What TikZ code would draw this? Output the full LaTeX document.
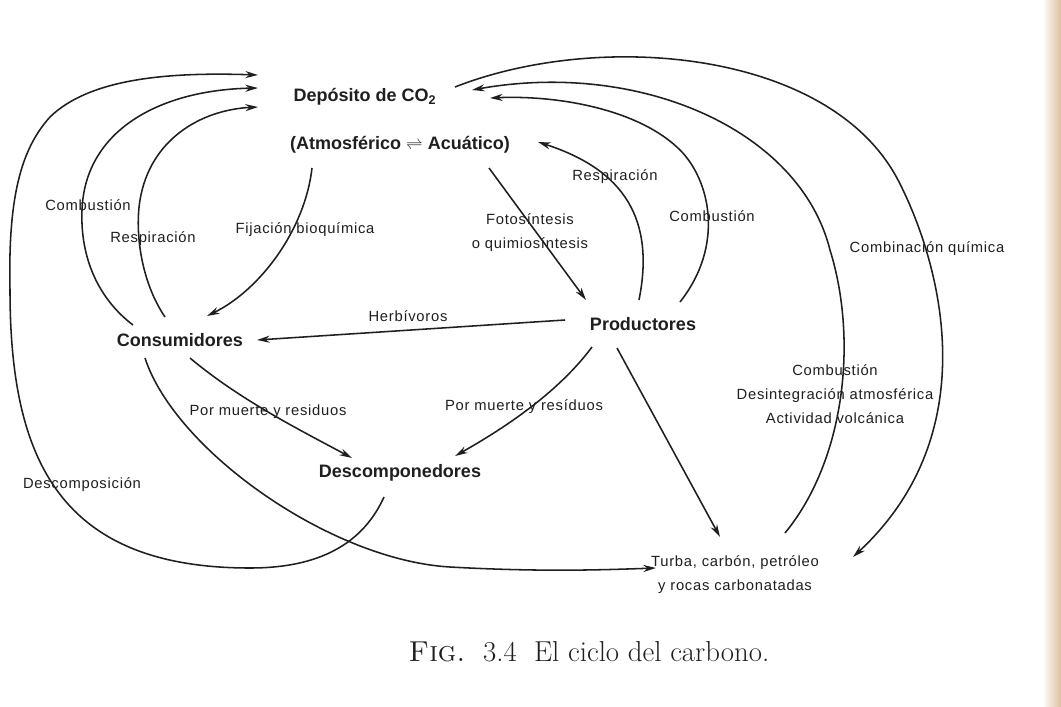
\documentclass[tikz,border=0pt]{standalone}
\usepackage{fontspec}
\setsansfont{Liberation Sans}
\newfontfamily\lblfont[LetterSpace=5]{Liberation Sans}
\usetikzlibrary{arrows.meta}

\begin{document}
\begin{tikzpicture}[x=0.025cm, y=-0.025cm, >={Stealth[length=9pt,width=5pt]},
                    color=black!88, line width=1.1pt]
\tikzset{box/.style={font=\sffamily\bfseries\fontsize{12.8}{15}\selectfont, inner sep=1pt},
         lbl/.style={font=\lblfont\fontsize{10.5}{17}\selectfont, inner sep=0pt},
         flow/.style={->, line width=1.1pt}}
  \useasboundingbox[fill=white] (0,0) rectangle (1061,706);
  \shade[left color=white, right color=brown!50!white] (1042,0) rectangle (1061,706);
  % compartimentos
  \node[box] (dep) at (365,97) {Depósito de CO\textsubscript{2}};
  \node[box] (atm) at (400,145) {(Atmosférico $\rightleftharpoons$ Acuático)};
  \node[box] (cons) at (180,340) {Consumidores};
  \node[box] (prod) at (643,324) {Productores};
  \node[box] (desc) at (400,473) {Descomponedores};
  \node[lbl, align=center] (turba) at (735,575) {Turba, carbón, petróleo\\y rocas carbonatadas};
  %
  \node[lbl] (lcomb1) at (88,205) {Combustión};
  \node[lbl] (lresp1) at (153,239) {Respiración};
  \node[lbl] (lfij) at (305,230) {Fijación bioquímica};
  \node[lbl, align=center] (lfoto) at (530,233) {Fotosíntesis\\o quimiosíntesis};
  \node[lbl] (lresp2) at (615,177) {Respiración};
  \node[lbl] (lcomb2) at (712,216) {Combustión};
  \node[lbl] (lquim) at (927,249) {Combinación química};
  \node[lbl] (lherb) at (408,316) {Herbívoros};
  \node[lbl] (lmuer1) at (268,412) {Por muerte y residuos};
  \node[lbl] (lmuer2) at (524,407) {Por muerte y resíduos};
  \node[lbl, align=center] (lgeo) at (835,394) {Combustión\\Desintegración atmosférica\\Actividad volcánica};
  \node[lbl] (ldesc) at (82,485) {Descomposición};
  %
  \node (cap) at (589,652) {\fontsize{20.5}{24}\selectfont\textsc{Fig.}\ \ 3.4\ \ El\ ciclo\ del\ carbono.};
  % hacia el deposito, por la izquierda
  \draw[flow] ([shift={(-16,24)}]desc.center) .. controls (360,550) and (310,568) .. (250,568)
     .. controls (60,568) and (10,460) .. (10,290)
     .. controls (8,200) and (20,150) .. (50,117)
     .. controls (90,78) and (170,72) .. ([shift={(-107,-22)}]dep.center);
  \draw[flow] ([shift={(-47,-15)}]cons.center) .. controls (100,300) and (80,260) .. (82,210)
     .. controls (85,130) and (160,90) .. ([shift={(-107,-9)}]dep.center);
  \draw[flow] ([shift={(-15,-23)}]cons.center) .. controls (140,280) and (135,230) .. (140,200)
     .. controls (150,140) and (200,110) .. ([shift={(-107,10)}]dep.center);
  \draw[flow] ([shift={(-88,23)}]atm.center) .. controls (305,230) and (260,290) .. ([shift={(27,-24)}]cons.center);
  % productores
  \draw[flow] ([shift={(-78,-4)}]prod.center) -- ([shift={(77,0)}]cons.center);
  \draw[flow] ([shift={(89,23)}]atm.center) -- ([shift={(-57,-24)}]prod.center);
  \draw[flow] ([shift={(-4,-24)}]prod.center) .. controls (655,220) and (625,170) .. ([shift={(138,-3)}]atm.center);
  \draw[flow] ([shift={(37,-22)}]prod.center) .. controls (725,245) and (710,180) .. (680,150)
     .. controls (640,110) and (560,95) .. ([shift={(125,1)}]dep.center);
  % turba y rocas
  \draw[flow] ([shift={(50,-42)}]turba.center) .. controls (845,460) and (858,340) .. (830,250)
     .. controls (800,130) and (640,60) .. ([shift={(107,-7)}]dep.center);
  \draw[flow] ([shift={(90,-10)}]dep.center) .. controls (600,30) and (830,50) .. (898,180)
     .. controls (938,257) and (990,430) .. ([shift={(118,-18)}]turba.center);
  \draw[flow] ([shift={(-35,18)}]cons.center) .. controls (175,450) and (330,560) .. (450,567)
     .. controls (540,572) and (600,570) .. ([shift={(-79,-7)}]turba.center);
  \draw[flow] ([shift={(-26,24)}]prod.center) -- ([shift={(-15,-38)}]turba.center);
  % descomponedores
  \draw[flow] ([shift={(10,18)}]cons.center) .. controls (240,400) and (300,430) .. ([shift={(-48,-15)}]desc.center);
  \draw[flow] ([shift={(-51,23)}]prod.center) .. controls (560,390) and (510,425) .. ([shift={(55,-17)}]desc.center);
\end{tikzpicture}
\end{document}
